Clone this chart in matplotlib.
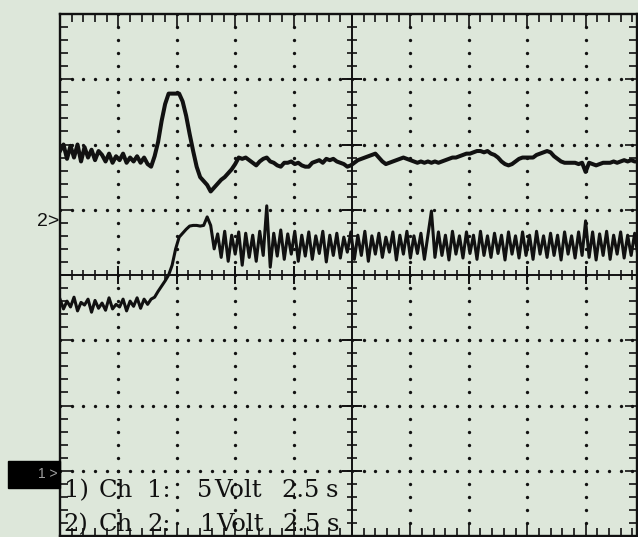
import numpy as np
import matplotlib
matplotlib.use('Agg')
import matplotlib.pyplot as plt
from matplotlib.patches import Rectangle

# scope settings
secondsPerDiv = 2.5
ch1VoltsPerDiv = 5.0
ch2VoltsPerDiv = 1.0
sampleInterval = 0.15      # s between stored samples
ch1GroundDiv = -3.0        # "1>" marker
ch2GroundDiv = 0.83        # "2>" marker

# channel 1 samples, volts
ch1Volts = [
    24.5, 25.0, 23.9, 24.9, 24.0, 25.0, 23.7, 24.8, 24.0, 24.6, 23.8, 24.5,
    24.2, 23.7, 24.3, 23.6, 24.1, 23.8, 24.3, 23.6, 24.0, 23.7, 24.1, 23.6, 24.0,
    23.5, 23.3, 24.1, 25.2, 26.8, 28.1, 28.9, 28.9, 28.9, 28.9, 28.3, 27.2, 25.8,
    24.5, 23.3, 22.5, 22.2, 21.9, 21.4, 21.7, 22.0, 22.3, 22.5, 22.8, 23.1, 23.5, 24.0,
    23.9, 24.0, 23.8, 23.6, 23.4, 23.7, 23.9, 24.0, 23.7, 23.6,
    23.4, 23.3, 23.6, 23.6, 23.7, 23.5, 23.6, 23.4, 23.3, 23.3,
    23.6, 23.7, 23.8, 23.6, 23.9, 23.8, 23.9, 23.7, 23.6, 23.5,
    23.3, 23.4, 23.6, 23.8, 23.9, 24.0, 24.1, 24.2, 24.3, 24.0,
    23.7, 23.5, 23.6, 23.7, 23.8, 23.9, 24.0, 23.9, 23.8, 23.7,
    23.6, 23.7, 23.6, 23.7, 23.6, 23.7, 23.6, 23.7, 23.8, 23.9,
    24.0, 24.0, 24.1, 24.2, 24.3, 24.3, 24.4, 24.5, 24.5, 24.4,
    24.5, 24.3, 24.2, 24.0, 23.7, 23.5, 23.4, 23.5, 23.7, 23.9,
    24.0, 24.0, 24.0, 24.0, 24.2, 24.3, 24.4, 24.5, 24.4, 24.1,
    23.9, 23.7, 23.6, 23.6, 23.6, 23.6, 23.5, 23.6, 22.9, 23.6,
    23.5, 23.4, 23.5, 23.6, 23.6, 23.6, 23.7, 23.6, 23.7, 23.8,
    23.7, 23.8, 23.7, 23.7,
]

# channel 2 samples, volts
ch2Volts = [
    -1.20, -1.35, -1.23, -1.32, -1.17, -1.38, -1.25, -1.29, -1.20, -1.40,
    -1.22, -1.34, -1.26, -1.37, -1.18, -1.35, -1.28, -1.32, -1.20, -1.38,
    -1.23, -1.31, -1.18, -1.34, -1.20, -1.28,
    -1.20, -1.17, -1.08, -1.00, -0.92, -0.83, -0.68, -0.43, -0.25, -0.19,
    -0.13, -0.08, -0.07, -0.07, -0.08, -0.07, 0.06, -0.07, -0.43,
    -0.20, -0.56, -0.16, -0.62, -0.22, -0.51, -0.17, -0.68, -0.19, -0.56,
    -0.22, -0.62, -0.16, -0.53, 0.23, -0.71, -0.19, -0.54, -0.14, -0.59,
    -0.20, -0.51, -0.16, -0.62, -0.22, -0.54, -0.17, -0.59, -0.23, -0.50,
    -0.16, -0.63, -0.22, -0.53, -0.19, -0.57, -0.25, -0.48, -0.17, -0.59,
    -0.22, -0.53, -0.16, -0.62, -0.23, -0.51, -0.19, -0.56, -0.25, -0.48,
    -0.17, -0.60, -0.22, -0.51, -0.16, -0.57, -0.23, -0.50, -0.19, -0.59,
    -0.22, 0.15, -0.56, -0.17, -0.53, -0.22, -0.60, -0.16, -0.51, -0.23,
    -0.57, -0.17, -0.50, -0.22, -0.59, -0.16, -0.53, -0.23, -0.56, -0.19,
    -0.50, -0.22, -0.60, -0.17, -0.51, -0.23, -0.57, -0.17, -0.53, -0.22,
    -0.59, -0.16, -0.51, -0.23, -0.56, -0.19, -0.53, -0.22, -0.60, -0.17,
    -0.51, -0.23, -0.57, -0.17, -0.53, 0.00, -0.56, -0.17, -0.60, -0.20,
    -0.53, -0.16, -0.59, -0.22, -0.51, -0.17, -0.57, -0.22, -0.53, -0.19,
    -0.56,
]

legendRows = [
    ["1)", "Ch", "1:", "5", "Volt", "2.5", "s"],
    ["2)", "Ch", "2:", "1", "Volt", "2.5", "s"],
]

W, H = 638, 537
bg = '#dde7da'
ink = '#111111'

fig = plt.figure(figsize=(W / 100, H / 100), dpi=100, facecolor=bg)
ax = fig.add_axes([60 / W, 1 / H, 577 / W, 522 / H], facecolor=bg)
xmax = 577 / 58.4
ax.set_xlim(0, xmax)
ax.set_ylim(-4, 4)

for s in ax.spines.values():
    s.set_linewidth(1.7)
    s.set_color(ink)

ax.set_xticks(np.arange(0, xmax, 1.0))
ax.set_xticks(np.arange(0, xmax, 0.2), minor=True)
ax.set_yticks(np.arange(-4, 4.01, 1.0))
ax.set_yticks(np.arange(-4, 4.01, 0.2), minor=True)
ax.tick_params(which='both', direction='in', top=True, right=True,
               labelbottom=False, labelleft=False, color=ink, width=1.2)
ax.tick_params(which='major', length=9)
ax.tick_params(which='minor', length=5.5)

# dotted graticule
yy = np.arange(-4, 4.01, 0.2)
xx = np.arange(0, xmax, 0.2)
for k in range(1, 10):
    if k != 5:
        ax.plot([k] * len(yy), yy, ls='none', marker='o', ms=2.4, mec='none', color=ink)
for k in range(-3, 4):
    if k != 0:
        ax.plot(xx, [k] * len(xx), ls='none', marker='o', ms=2.4, mec='none', color=ink)

# centre cross with ticks
ax.axvline(5, color=ink, lw=1.4)
ax.axhline(0, color=ink, lw=1.4)
ax.plot(xx, np.zeros(len(xx)), ls='none', marker='|', ms=7, mew=1.2, color=ink)
ax.plot(np.arange(0, xmax, 1.0), np.zeros(len(np.arange(0, xmax, 1.0))), ls='none',
        marker='|', ms=13, mew=1.4, color=ink)
ax.plot(np.full(len(yy), 5.0), yy, ls='none', marker='_', ms=7, mew=1.2, color=ink)
ax.plot(np.full(9, 5.0), np.arange(-4, 5, 1.0), ls='none', marker='_', ms=14, mew=1.4, color=ink)

# traces
t1 = np.arange(len(ch1Volts)) * sampleInterval
t2 = np.arange(len(ch2Volts)) * sampleInterval
ax.plot(t1 / secondsPerDiv, ch1GroundDiv + np.array(ch1Volts) / ch1VoltsPerDiv,
        color=ink, lw=2.9)
ax.plot(t2 / secondsPerDiv, ch2GroundDiv + np.array(ch2Volts) / ch2VoltsPerDiv,
        color=ink, lw=2.2)

# channel markers
fig.text(59 / W, 1 - 222 / H, "2>", ha='right', va='center', fontsize=14,
         family='Liberation Sans', color=ink)
fig.add_artist(Rectangle((8 / W, 1 - 488 / H), 52 / W, 27 / H,
                         transform=fig.transFigure, color='black'))
fig.text(58 / W, 1 - 474 / H, "1 >", ha='right', va='center', fontsize=10,
         family='Liberation Sans', color='#a0a0a0')

# legend text on screen
colsX = [[64, 99, 147, 197, 214, 281, 326], [63, 99, 147, 200, 216, 282, 327]]
rowsY = [497, 531]
for row, xs, yb in zip(legendRows, colsX, rowsY):
    for word, xp in zip(row, xs):
        fig.text(xp / W, 1 - yb / H, word, ha='left', va='baseline', fontsize=17.5,
                 family='DejaVu Serif', color=ink)

fig.savefig('out.png', dpi=100, facecolor=bg)
